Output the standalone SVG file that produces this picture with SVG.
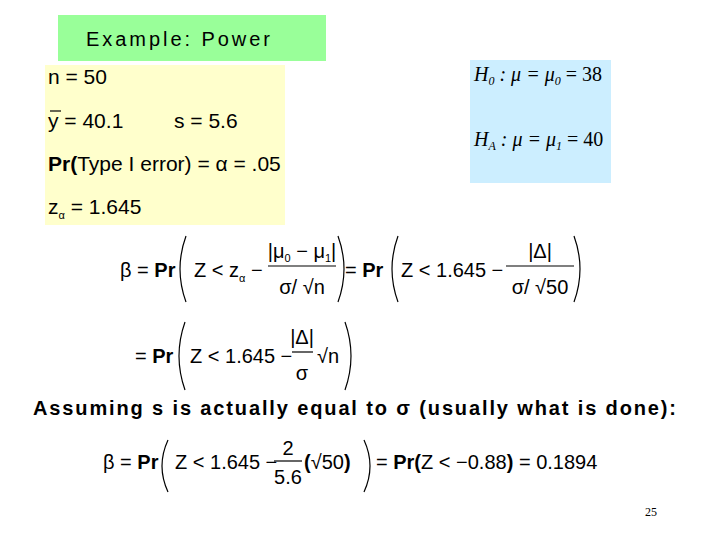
<svg xmlns="http://www.w3.org/2000/svg" width="720" height="540" viewBox="0 0 720 540">
<style>
.s{font-family:"Liberation Sans",Arial,sans-serif;font-size:20px;fill:#000}
.y{font-size:21px}
.b{font-weight:bold}
.t{font-family:"Liberation Serif","Times New Roman",serif;font-style:italic;font-size:20px}
.p{fill:none;stroke:#000;stroke-width:1.2}
.l{stroke:#000;stroke-width:1.2}
</style>
<rect width="720" height="540" fill="#fff"/>
<g id="title"><rect x="58" y="15" width="268" height="46" fill="#99ff99"/><text class="s" x="86" y="46" font-size="21" textLength="184" lengthAdjust="spacing">Example: Power</text></g>
<g id="given"><rect x="45" y="65" width="240" height="160" fill="#ffffcc"/>
<text class="s y" x="48" y="84">n = 50</text>
<line class="l" x1="50" y1="111" x2="61" y2="111"/>
<text class="s y" x="48" y="128">y = 40.1</text><text class="s y" x="174" y="128">s = 5.6</text>
<text class="s y" x="48" y="171"><tspan class="b">Pr(</tspan>Type I error) = α = .05</text>
<text class="s y" x="48" y="214">z<tspan font-size="11" dy="5">α</tspan><tspan dy="-5"> = 1.645</tspan></text></g>
<g id="hyp"><rect x="470" y="60" width="141" height="123" fill="#cceeff"/>
<text class="t" x="474" y="81">H<tspan font-size="12" dy="4">0</tspan><tspan dy="-4"> : μ = μ</tspan><tspan font-size="12" dy="4">0</tspan><tspan dy="-4" font-style="normal"> = 38</tspan></text>
<text class="t" x="474" y="146">H<tspan font-size="12" dy="4">A</tspan><tspan dy="-4"> : μ = μ</tspan><tspan font-size="12" dy="4">1</tspan><tspan dy="-4" font-style="normal"> = 40</tspan></text></g>
<g id="eq1">
<text class="s" x="120" y="277">β = <tspan class="b">Pr</tspan></text>
<path class="p" d="M186 236 Q174 269 186 302"/>
<text class="s" x="194" y="277">Z &lt; z<tspan font-size="11" dy="5">α</tspan><tspan dy="-5"> −</tspan></text>
<text class="s" x="302" y="258" text-anchor="middle">|μ<tspan font-size="11" dy="4">0</tspan><tspan dy="-4"> − μ</tspan><tspan font-size="11" dy="4">1</tspan><tspan dy="-4">|</tspan></text>
<line class="l" x1="268" y1="266" x2="336" y2="266"/>
<text class="s" x="302" y="294" text-anchor="middle">σ/ √n</text>
<path class="p" d="M338 236 Q350 269 338 302"/>
<text class="s" x="345" y="277">= <tspan class="b">Pr</tspan></text>
<path class="p" d="M398 236 Q386 269 398 302"/>
<text class="s" x="401" y="277">Z &lt; 1.645 −</text>
<text class="s" x="540" y="258" text-anchor="middle">|Δ|</text>
<line class="l" x1="506" y1="266" x2="574" y2="266"/>
<text class="s" x="540" y="294" text-anchor="middle">σ/ √50</text>
<path class="p" d="M574 236 Q586 269 574 302"/>
</g>
<g id="eq2">
<text class="s" x="135" y="363">= <tspan class="b">Pr</tspan></text>
<path class="p" d="M185 322 Q173 356 185 390"/>
<text class="s" x="190" y="363">Z &lt; 1.645 −</text>
<text class="s" x="302" y="344" text-anchor="middle">|Δ|</text>
<line class="l" x1="292" y1="352" x2="313" y2="352"/>
<text class="s" x="302" y="380" text-anchor="middle">σ</text>
<text class="s" x="317" y="363">√n</text>
<path class="p" d="M345 322 Q357 356 345 390"/>
</g>
<text class="s b" x="33" y="415" font-size="20" textLength="643" lengthAdjust="spacing">Assuming s is actually equal to σ (usually what is done):</text>
<g id="eq3">
<text class="s" x="103" y="469">β = <tspan class="b">Pr</tspan></text>
<path class="p" d="M168 440 Q156 466 168 492"/>
<text class="s" x="175" y="469">Z &lt; 1.645 −</text>
<text class="s" x="288" y="455" text-anchor="middle">2</text>
<line class="l" x1="274" y1="461" x2="302" y2="461"/>
<text class="s" x="288" y="484" text-anchor="middle">5.6</text>
<text class="s" x="304" y="469"><tspan class="b">(</tspan>√50<tspan class="b">)</tspan></text>
<path class="p" d="M364 440 Q376 466 364 492"/>
<text class="s" x="376" y="469">= <tspan class="b">Pr(</tspan>Z &lt; −0.88<tspan class="b">)</tspan> = 0.1894</text>
</g>
<text x="645" y="516" font-family="Liberation Serif,serif" font-size="12">25</text>
</svg>
